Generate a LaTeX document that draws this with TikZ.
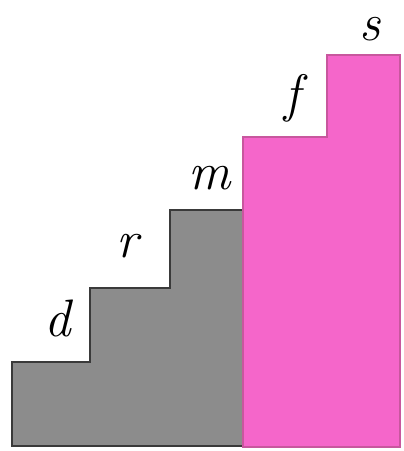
\documentclass[tikz,border=0pt]{standalone}
\usepackage{xcolor}
\definecolor{stairgray}{HTML}{8C8C8C}
\definecolor{edgegray}{HTML}{3A3A3A}
\definecolor{stairpink}{HTML}{F566CA}
\definecolor{edgepink}{HTML}{C8579E}

\begin{document}
\begin{tikzpicture}[x=0.02cm, y=-0.02cm,
      graystep/.style={fill=stairgray, draw=edgegray, line width=1.2pt},
      pinkstep/.style={fill=stairpink, draw=edgepink, line width=0.6pt},
      lbl/.style={font=\fontsize{30}{34}\selectfont\itshape, inner sep=0pt}
    ]
    \useasboundingbox (0,0) rectangle (404,451);

    % Gray stairs
    \draw[graystep] (12,446) -- (12,362) -- (90,362) -- (90,288) -- (170,288)
        -- (170,210) -- (243,210) -- (243,446) -- cycle;

    % Pink stairs
    \draw[pinkstep] (243,447) -- (243,137) -- (327,137) -- (327,55)
        -- (400,55) -- (400,447) -- cycle;

    % Step labels
    \node[lbl] (d) at (58,318) {d};
    \node[lbl] (r) at (127,246) {r};
    \node[lbl] (m) at (210,178) {m};
    \node[lbl] (f) at (292,98)  {f};
    \node[lbl] (s) at (370,29)  {s};

  \end{tikzpicture}
\end{document}
